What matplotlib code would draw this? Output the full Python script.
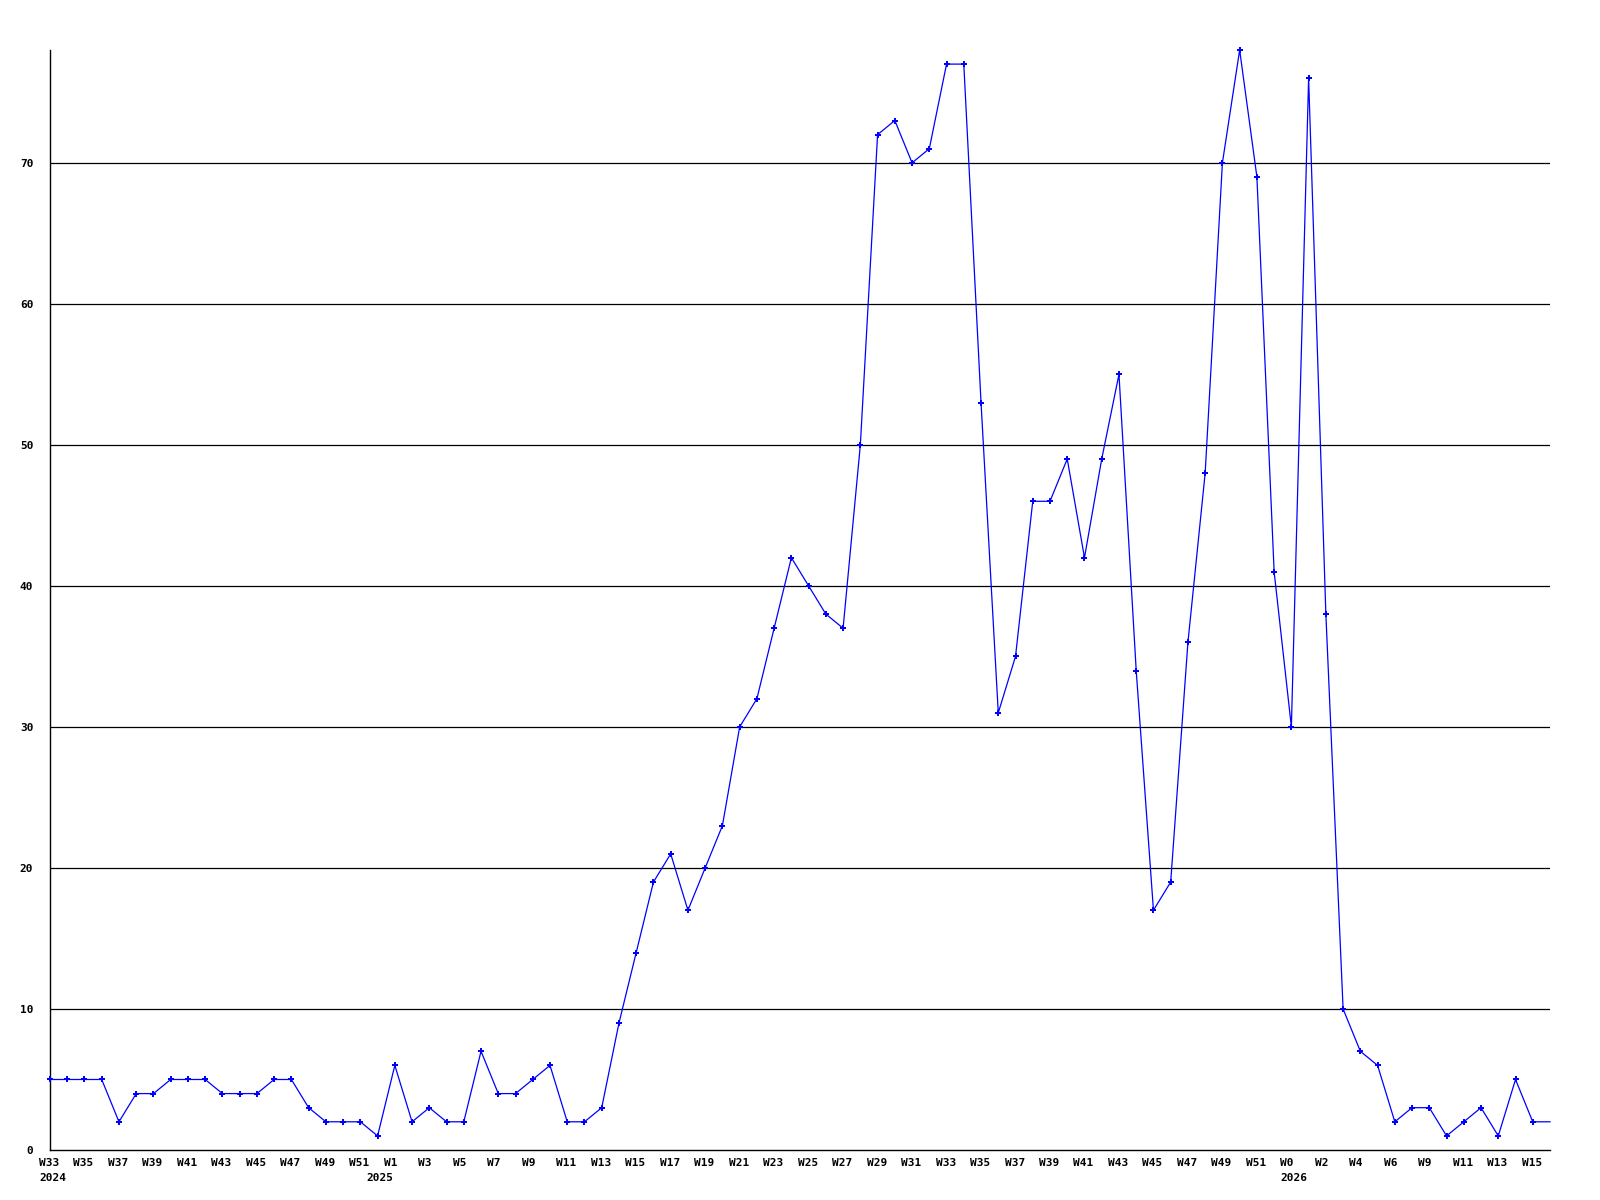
import matplotlib
matplotlib.use("Agg")
import matplotlib.pyplot as plt
import matplotlib.transforms as mtransforms

# ---- data -------------------------------------------------------------
weeks = [
    # 2024
    "W33", "W34", "W35", "W36", "W37", "W38", "W39", "W40", "W41", "W42",
    "W43", "W44", "W45", "W46", "W47", "W48", "W49", "W50", "W51", "W52",
    # 2025
    "W1", "W2", "W3", "W4", "W5", "W6", "W7", "W8", "W9", "W10",
    "W11", "W12", "W13", "W14", "W15", "W16", "W17", "W18", "W19", "W20",
    "W21", "W22", "W23", "W24", "W25", "W26", "W27", "W28", "W29", "W30",
    "W31", "W32", "W33", "W34", "W35", "W36", "W37", "W38", "W39", "W40",
    "W41", "W42", "W43", "W44", "W45", "W46", "W47", "W48", "W49", "W50",
    "W51", "W52",
    # 2026
    "W0", "W1", "W2", "W3", "W4", "W5", "W6", "W8", "W9", "W10",
    "W11", "W12", "W13", "W14", "W15", "W16",
]

values = [
    5, 5, 5, 5, 2, 4, 4, 5, 5, 5,
    4, 4, 4, 5, 5, 3, 2, 2, 2, 1,
    6, 2, 3, 2, 2, 7, 4, 4, 5, 6,
    2, 2, 3, 9, 14, 19, 21, 17, 20, 23,
    30, 32, 37, 42, 40, 38, 37, 50, 72, 73,
    70, 71, 77, 77, 53, 31, 35, 46, 46, 49,
    42, 49, 55, 34, 17, 19, 36, 48, 70, 78,
    69, 41, 30, 76, 38, 10, 7, 6, 2, 3,
    3, 1, 2, 3, 1, 5, 2, 2,
]

year_labels = ["2024", "2025", "2026"]
year_label_at = [0, 19, 72]          # category index where each year label sits

y_ticks = [0, 10, 20, 30, 40, 50, 60, 70]

# ---- figure -----------------------------------------------------------
DPI = 100
fig = plt.figure(figsize=(16, 12), dpi=DPI, facecolor="white")
ax = fig.add_axes([50 / 1600, 50 / 1200, 1500 / 1600, 1100 / 1200])

x = list(range(len(values)))
ax.plot(x, values, color="#0000ff", linewidth=0.9, marker="P",
        markersize=4.2, markeredgewidth=0, markerfacecolor="#0000ff",
        markevery=list(range(len(values) - 1)), clip_on=False, zorder=3)

ax.set_xlim(0, len(values) - 1)
ax.set_ylim(0, max(values))

# grid lines
for yt in y_ticks[1:]:
    ax.axhline(yt, color="black", linewidth=0.9, zorder=1)

for side in ("top", "right"):
    ax.spines[side].set_visible(False)
for side in ("left", "bottom"):
    ax.spines[side].set_color("black")
    ax.spines[side].set_linewidth(1.0)

font = dict(family="DejaVu Sans Mono", weight="bold", size=8)

ax.set_yticks(y_ticks)
ax.set_yticklabels([str(v) for v in y_ticks], fontdict=font)
ax.tick_params(axis="y", length=0, pad=12)

ax.set_xticks([])
trans_x = ax.get_xaxis_transform()
off_week = mtransforms.ScaledTranslation(-11 / DPI, -13 / DPI, fig.dpi_scale_trans)
off_year = mtransforms.ScaledTranslation(-11 / DPI, -28 / DPI, fig.dpi_scale_trans)
for i, lab in enumerate(weeks):
    if i % 2 == 0:
        ax.text(i, 0, lab, transform=trans_x + off_week, ha="left",
                va="center", clip_on=False, **font)
for lab, i in zip(year_labels, year_label_at):
    ax.text(i, 0, lab, transform=trans_x + off_year, ha="left",
            va="center", clip_on=False, **font)

fig.savefig("out.png", dpi=DPI, facecolor="white")
